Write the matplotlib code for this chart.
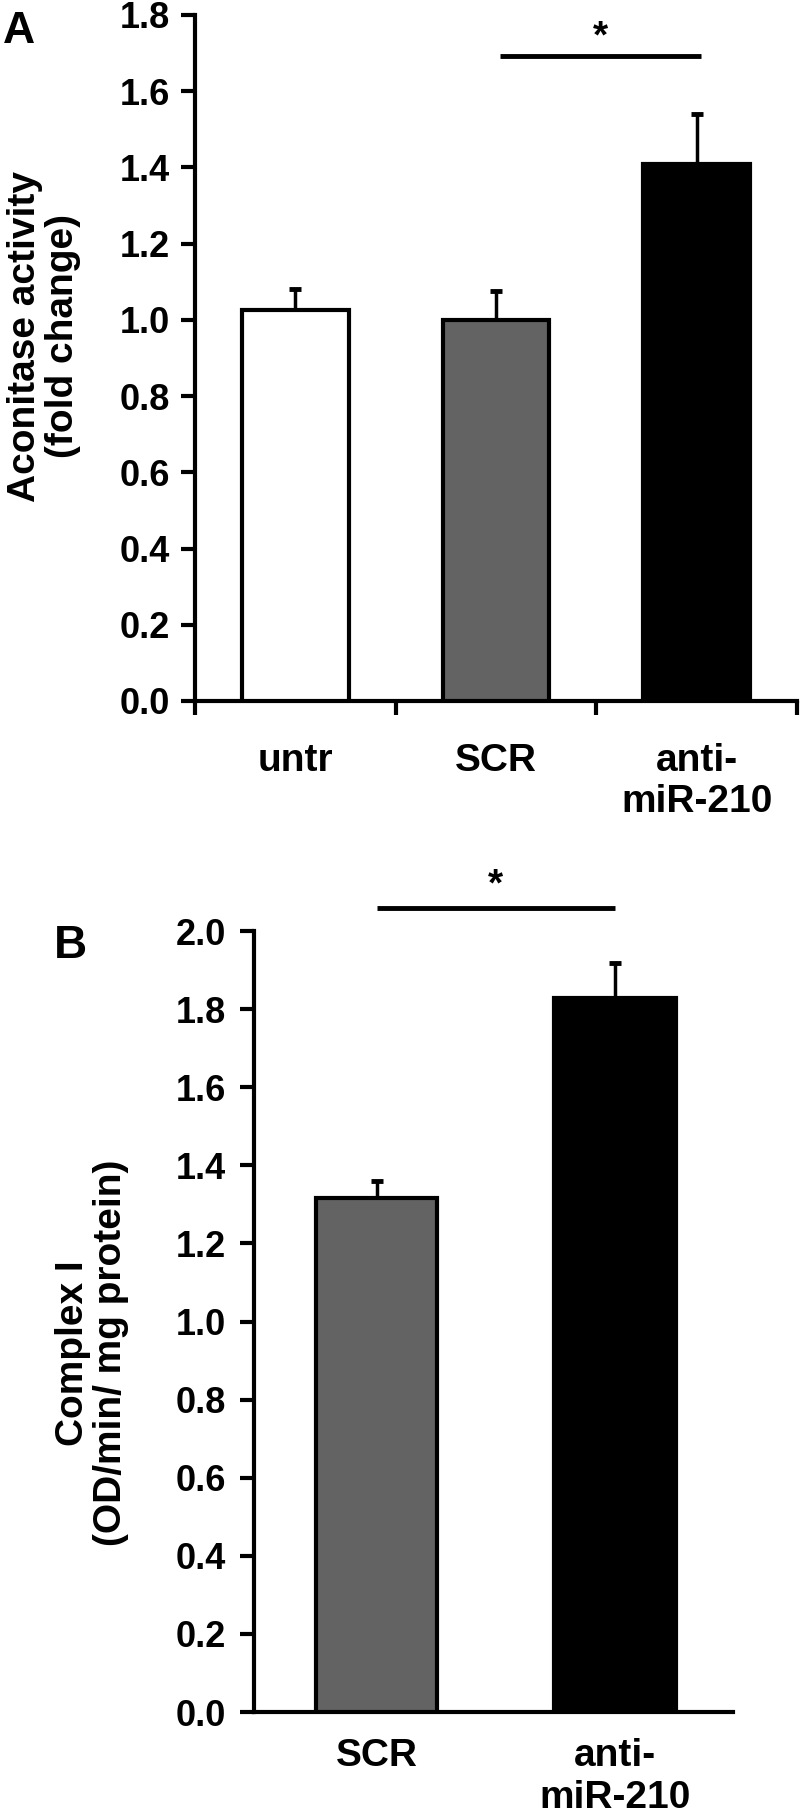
import numpy as np
import matplotlib
matplotlib.use('Agg')
import matplotlib.pyplot as plt

plt.rcParams['font.family'] = ['Liberation Sans', 'DejaVu Sans']
plt.rcParams['font.weight'] = 'bold'

# ---------------- data ----------------
a_categories = ['untr', 'SCR', 'anti-\nmiR-210']
a_values = [1.025, 1.00, 1.41]
a_errors = [0.055, 0.075, 0.13]
a_colors = ['white', '#636363', 'black']
a_yticks = [0.0, 0.2, 0.4, 0.6, 0.8, 1.0, 1.2, 1.4, 1.6, 1.8]
a_ylabel = 'Aconitase activity\n(fold change)'

b_categories = ['SCR', 'anti-\nmiR-210']
b_values = [1.315, 1.828]
b_errors = [0.045, 0.09]
b_colors = ['#636363', 'black']
b_yticks = [0.0, 0.2, 0.4, 0.6, 0.8, 1.0, 1.2, 1.4, 1.6, 1.8, 2.0]
b_ylabel = 'Complex I\n(OD/min/ mg protein)'

W, H = 800, 1817
fig = plt.figure(figsize=(W / 100, H / 100), dpi=100)


def fx(px):
    return px / W


def fy(py):
    return 1 - py / H


def style_axes(ax, ypad):
    for s in ['top', 'right']:
        ax.spines[s].set_visible(False)
    for s in ['left', 'bottom']:
        ax.spines[s].set_linewidth(3)
    ax.tick_params(axis='y', direction='out', length=10, width=3,
                   labelsize=26, pad=ypad)
    for lab in ax.get_yticklabels():
        lab.set_fontweight('bold')


# ---------------- Panel A ----------------
axA = fig.add_axes([fx(195), fy(701), fx(797) - fx(195), fy(15) - fy(701)])
xa = np.arange(len(a_categories))
axA.errorbar(xa, a_values, yerr=[np.zeros(len(a_errors)), a_errors],
             fmt='none', ecolor='black', elinewidth=2.5, capsize=4,
             capthick=3.5, zorder=2)
axA.bar(xa, a_values, width=0.53, color=a_colors, edgecolor='black',
        linewidth=3, zorder=3)
axA.set_xlim(-0.5, 2.5)
axA.set_ylim(0, 1.8)
axA.set_yticks(a_yticks)
axA.set_yticklabels([f'{v:.1f}' for v in a_yticks])
style_axes(axA, 8)
axA.set_xticks(xa)
axA.set_xticklabels(a_categories, fontsize=28, fontweight='bold',
                    multialignment='center')
axA.set_xticks([-0.5, 0.5, 1.5, 2.5], minor=True)
axA.tick_params(axis='x', which='major', length=0, pad=30)
axA.tick_params(axis='x', which='minor', length=10, width=3, direction='out')
axA.plot([1.02, 2.02], [1.693, 1.693], color='black', lw=3.5,
         solid_capstyle='butt', clip_on=False)
axA.text(1.52, 1.715, '*', ha='center', va='baseline', fontsize=28,
         fontweight='bold', clip_on=False)

fig.text(fx(3), fy(43), 'A', fontsize=32, fontweight='bold',
         ha='left', va='baseline')
fig.text(fx(44), fy(336), a_ylabel, rotation=90, ha='center', va='center',
         fontsize=28, fontweight='bold', linespacing=1.1,
         multialignment='center')

# ---------------- Panel B ----------------
axB = fig.add_axes([fx(254), fy(1712), fx(733) - fx(254), fy(931) - fy(1712)])
xb = np.arange(len(b_categories))
axB.errorbar(xb, b_values, yerr=[np.zeros(len(b_errors)), b_errors],
             fmt='none', ecolor='black', elinewidth=2.5, capsize=4,
             capthick=3.5, zorder=2)
axB.bar(xb, b_values, width=0.51, color=b_colors, edgecolor='black',
        linewidth=3, zorder=3)
axB.set_xlim(-0.514, 1.495)
axB.set_ylim(0, 2.0)
axB.set_yticks(b_yticks)
axB.set_yticklabels([f'{v:.1f}' for v in b_yticks])
style_axes(axB, 10)
axB.set_xticks(xb)
axB.set_xticklabels(b_categories, fontsize=28, fontweight='bold',
                    multialignment='center')
axB.tick_params(axis='x', which='major', length=0, pad=19)
axB.plot([0, 1], [2.059, 2.059], color='black', lw=3.5,
         solid_capstyle='butt', clip_on=False)
axB.text(0.5, 2.09, '*', ha='center', va='baseline', fontsize=28,
         fontweight='bold', clip_on=False)

fig.text(fx(54), fy(958), 'B', fontsize=33, fontweight='bold',
         ha='left', va='baseline')
fig.text(fx(92), fy(1353), b_ylabel, rotation=90, ha='center', va='center',
         fontsize=28, fontweight='bold', linespacing=1.1,
         multialignment='center')

fig.savefig('out.png', dpi=100, facecolor='white')
